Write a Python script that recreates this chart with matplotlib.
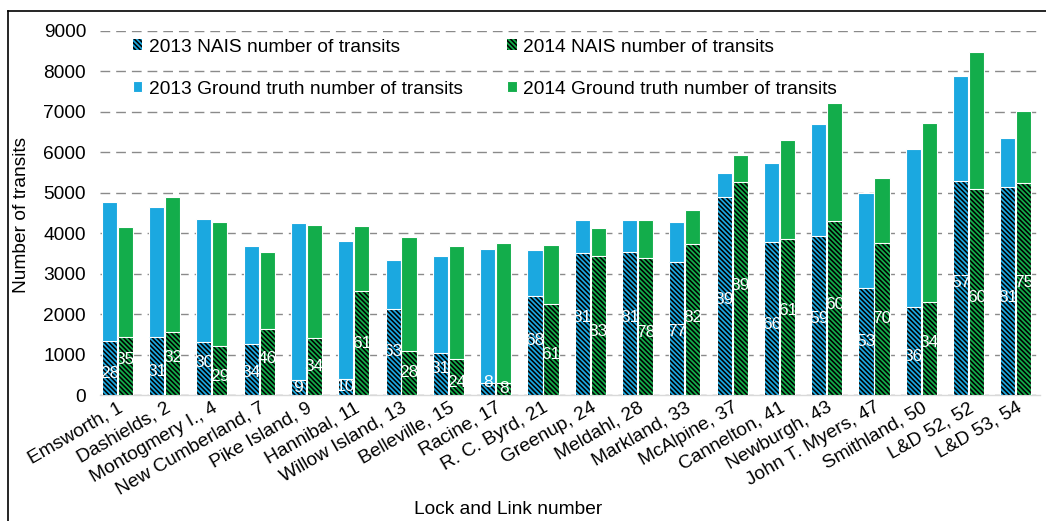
import numpy as np
import matplotlib
matplotlib.use("Agg")
import matplotlib.pyplot as plt
from matplotlib.lines import Line2D

plt.rcParams['font.family'] = ['Liberation Sans', 'DejaVu Sans']
plt.rcParams['hatch.linewidth'] = 1.15

locks = ["Emsworth, 1", "Dashields, 2", "Montogmery I., 4", "New Cumberland, 7",
         "Pike Island, 9", "Hannibal, 11", "Willow Island, 13", "Belleville, 15",
         "Racine, 17", "R. C. Byrd, 21", "Greenup, 24", "Meldahl, 28",
         "Markland, 33", "McAlpine, 37", "Cannelton, 41", "Newburgh, 43",
         "John T. Myers, 47", "Smithland, 50", "L&D 52, 52", "L&D 53, 54"]

truth_2013 = [4770, 4660, 4350, 3690, 4260, 3810, 3340, 3430, 3620, 3590,
              4320, 4335, 4280, 5480, 5730, 6700, 4990, 6080, 7890, 6350]
nais_2013 = [1340, 1430, 1310, 1260, 370, 400, 2130, 1050, 290, 2450,
             3500, 3530, 3280, 4900, 3790, 3940, 2650, 2170, 5300, 5150]
truth_2014 = [4150, 4900, 4280, 3545, 4200, 4180, 3900, 3680, 3750, 3710,
              4120, 4335, 4575, 5940, 6300, 7210, 5370, 6730, 8490, 7020]
nais_2014 = [1440, 1560, 1210, 1630, 1410, 2570, 1090, 880, 290, 2250,
             3440, 3390, 3730, 5270, 3850, 4300, 3770, 2300, 5090, 5235]

pct_2013 = [28, 31, 30, 34, 9, 10, 63, 31, 8, 68, 81, 81, 77, 89, 66, 59, 53, 36, 57, 81]
pct_2014 = [35, 32, 29, 46, 34, 61, 28, 24, 8, 61, 83, 78, 82, 89, 61, 60, 70, 34, 60, 75]

blue = "#1ba8e0"
green = "#13ad4b"
hatch = "\\\\\\\\\\\\\\"
fs = 13.8

fig = plt.figure(figsize=(10.46, 5.21), dpi=100)
ax = fig.add_axes([100/1046, 1-395/521, 940/1046, 364/521])

x = np.arange(len(locks))
w = 0.32
off = 0.169

# ground truth totals, then NAIS on top (hatched)
b13 = ax.bar(x - off, truth_2013, w, color=blue, edgecolor="white", linewidth=0.8, zorder=2)
b14 = ax.bar(x + off, truth_2014, w, color=green, edgecolor="white", linewidth=0.8, zorder=2)
n13 = ax.bar(x - off, nais_2013, w, color=blue, edgecolor="black", linewidth=0, hatch=hatch, zorder=3)
n14 = ax.bar(x + off, nais_2014, w, color=green, edgecolor="black", linewidth=0, hatch=hatch, zorder=3)
ax.bar(x - off, nais_2013, w, fill=False, edgecolor="white", linewidth=0.8, zorder=4)
ax.bar(x + off, nais_2014, w, fill=False, edgecolor="white", linewidth=0.8, zorder=4)

# percentage labels, staggered when the two would collide
for i in range(len(locks)):
    y13 = nais_2013[i] / 2
    y14 = nais_2014[i] / 2
    if abs(y13 - y14) < 350:
        shift = (350 - abs(y13 - y14)) / 2
        if y13 >= y14:
            y13 += shift
            y14 -= shift
        else:
            y13 -= shift
            y14 += shift
    y13 = max(y13, 160)
    y14 = max(y14, 160)
    ax.text(x[i] - off, y13, str(pct_2013[i]), color="white", fontsize=12.5,
            ha="center", va="center", zorder=5)
    ax.text(x[i] + off, y14, str(pct_2014[i]), color="white", fontsize=12.5,
            ha="center", va="center", zorder=5)

ax.set_ylim(0, 9000)
ax.set_xlim(-0.366, 19.51)
ax.set_yticks(np.arange(0, 9001, 1000))
ax.yaxis.grid(True, color="#8a8a8a", linewidth=1.0, linestyle=(0, (7, 4.3)), zorder=1)
ax.set_axisbelow(True)
for s in ["left", "top", "right"]:
    ax.spines[s].set_visible(False)
ax.spines["bottom"].set_color("#d9d9d9")
ax.spines["bottom"].set_linewidth(1.0)
ax.tick_params(axis="y", length=0, pad=10, labelsize=fs)
ax.tick_params(axis="x", length=0, pad=3, labelsize=fs)
ax.set_xticks(x)
ax.set_xticklabels(locks, rotation=30, ha="right", rotation_mode="anchor")

fig.text(22/1046, 1-215/521, "Number of transits", rotation=90, ha="center", va="center", fontsize=fs)
fig.text(508/1046, 1-510/521, "Lock and Link number", ha="center", va="center", fontsize=fs)

handles = [n13, b13, n14, b14]
labels = ["2013 NAIS number of transits", "2013 Ground truth number of transits",
          "2014 NAIS number of transits", "2014 Ground truth number of transits"]
fig.legend(handles, labels, ncol=2, loc="upper left", bbox_to_anchor=(125/1046, 1-31/521),
           frameon=False, fontsize=fs, handlelength=0.5, handleheight=0.5,
           handletextpad=0.35, labelspacing=1.3, columnspacing=2.3, borderaxespad=0)

# frame of the original screenshot (left and top edges only)
fig.add_artist(Line2D([8/1046, 8/1046], [0, 1-11/521], color="black", linewidth=1.2))
fig.add_artist(Line2D([8/1046, 1], [1-11/521, 1-11/521], color="black", linewidth=1.2))

fig.savefig("out.png", dpi=100)
